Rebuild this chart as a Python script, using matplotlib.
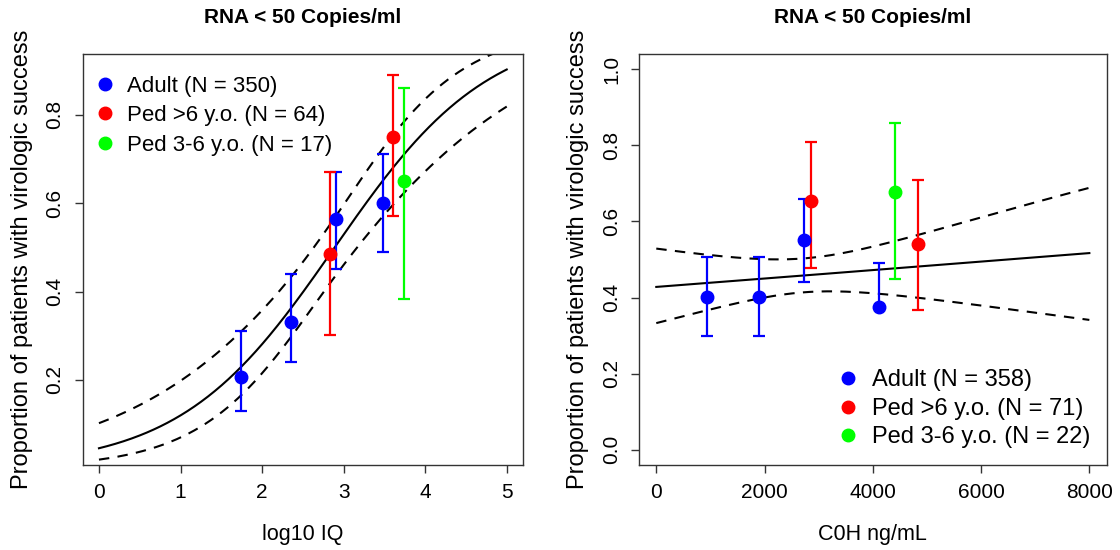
import numpy as np
import matplotlib.pyplot as plt
from matplotlib.lines import Line2D

plt.rcParams['font.family'] = ['Liberation Sans', 'DejaVu Sans']

# left panel: log10 IQ
iq_adult_x = [1.74, 2.35, 2.91, 3.48]
iq_adult_y = [0.206, 0.332, 0.564, 0.601]
iq_adult_lo = [0.130, 0.241, 0.452, 0.490]
iq_adult_hi = [0.311, 0.440, 0.671, 0.711]
iq_ped6_x = [2.83, 3.60]
iq_ped6_y = [0.484, 0.749]
iq_ped6_lo = [0.302, 0.572]
iq_ped6_hi = [0.671, 0.891]
iq_ped36_x = [3.735]
iq_ped36_y = [0.650]
iq_ped36_lo = [0.382]
iq_ped36_hi = [0.861]
# logistic fit: intercept, slope, var-cov of coefficients
iq_coef = [-3.055, 1.057]
iq_vcov = [[0.2003, -0.0655], [-0.0655, 0.0236]]
iq_labels = ['Adult (N = 350)', 'Ped >6 y.o. (N = 64)', 'Ped 3-6 y.o. (N = 17)']

# right panel: C0H ng/mL
c0_adult_x = [929, 1889, 2726, 4105]
c0_adult_y = [0.401, 0.401, 0.550, 0.375]
c0_adult_lo = [0.300, 0.300, 0.440, 0.375]
c0_adult_hi = [0.507, 0.507, 0.658, 0.490]
c0_ped6_x = [2850, 4838]
c0_ped6_y = [0.654, 0.541]
c0_ped6_lo = [0.478, 0.368]
c0_ped6_hi = [0.809, 0.709]
c0_ped36_x = [4413]
c0_ped36_y = [0.677]
c0_ped36_lo = [0.450]
c0_ped36_hi = [0.859]
c0_coef = [-0.29, 4.47e-5]
c0_vcov = [[0.0427, -1.258e-5], [-1.258e-5, 4.616e-9]]
c0_labels = ['Adult (N = 358)', 'Ped >6 y.o. (N = 71)', 'Ped 3-6 y.o. (N = 22)']

cols = ['#0000ff', '#ff0000', '#00ff00']


def expit(v):
    return 1 / (1 + np.exp(-v))


def fit_lines(ax, coef, vcov, x0, x1):
    xs = np.linspace(x0, x1, 300)
    eta = coef[0] + coef[1] * xs
    v = np.array(vcov)
    se = np.sqrt(v[0, 0] + 2 * xs * v[0, 1] + xs ** 2 * v[1, 1])
    ax.plot(xs, expit(eta), color='black', lw=1.5)
    ax.plot(xs, expit(eta + 1.96 * se), color='black', lw=1.5, dashes=(5, 4))
    ax.plot(xs, expit(eta - 1.96 * se), color='black', lw=1.5, dashes=(5, 4))


def groups(ax, data):
    for (x, y, lo, hi), c in zip(data, cols):
        y = np.array(y)
        err = [y - np.array(lo), np.array(hi) - y]
        ax.errorbar(x, y, yerr=err, fmt='none', ecolor=c, elinewidth=1.6,
                    capsize=4.5, capthick=1.6, zorder=3)
        ax.plot(x, y, 'o', color=c, ms=9, zorder=4)


def style(ax):
    for s in ax.spines.values():
        s.set_color('#333333')
        s.set_linewidth(1)
    ax.tick_params(direction='out', length=6, width=1, color='#333333',
                   labelsize=15, pad=7)
    for t in ax.get_yticklabels():
        t.set_rotation(90)
        t.set_va('center')
    ax.set_title('RNA < 50 Copies/ml', fontsize=15, fontweight='bold', pad=22)
    ax.set_ylabel('Proportion of patients with virologic success', fontsize=17, labelpad=9)


def handles(labels):
    return [Line2D([], [], marker='o', ls='none', color=c, ms=9, label=l)
            for c, l in zip(cols, labels)]


fig = plt.figure(figsize=(11.2, 5.5), dpi=100)
ax1 = fig.add_axes([0.0738, 0.1545, 0.3932, 0.7473])
ax2 = fig.add_axes([0.5705, 0.1545, 0.4176, 0.7473])

fit_lines(ax1, iq_coef, iq_vcov, 0, 5)
groups(ax1, [(iq_adult_x, iq_adult_y, iq_adult_lo, iq_adult_hi),
             (iq_ped6_x, iq_ped6_y, iq_ped6_lo, iq_ped6_hi),
             (iq_ped36_x, iq_ped36_y, iq_ped36_lo, iq_ped36_hi)])
ax1.set_xlim(-0.2, 5.2)
ax1.set_ylim(0.007, 0.938)
ax1.set_xticks([0, 1, 2, 3, 4, 5])
ax1.set_yticks([0.2, 0.4, 0.6, 0.8])
ax1.set_xlabel('log10 IQ', fontsize=15.5, labelpad=16)
style(ax1)
ax1.legend(handles=handles(iq_labels), loc='upper left', bbox_to_anchor=(0.0, 0.985),
           frameon=False, fontsize=16, handlelength=0.6, handletextpad=0.7,
           labelspacing=0.38, borderaxespad=0.3)

fit_lines(ax2, c0_coef, c0_vcov, 0, 8000)
groups(ax2, [(c0_adult_x, c0_adult_y, c0_adult_lo, c0_adult_hi),
             (c0_ped6_x, c0_ped6_y, c0_ped6_lo, c0_ped6_hi),
             (c0_ped36_x, c0_ped36_y, c0_ped36_lo, c0_ped36_hi)])
ax2.set_xlim(-320, 8320)
ax2.set_ylim(-0.04, 1.04)
ax2.set_xticks([0, 2000, 4000, 6000, 8000])
ax2.set_yticks([0.0, 0.2, 0.4, 0.6, 0.8, 1.0])
ax2.set_xlabel('C0H ng/mL', fontsize=15.5, labelpad=16)
style(ax2)
ax2.legend(handles=handles(c0_labels), loc='lower right', bbox_to_anchor=(1.0, 0.0),
           frameon=False, fontsize=17, handlelength=0.6, handletextpad=0.7,
           labelspacing=0.28, borderaxespad=0.3)

fig.savefig('out.png', dpi=100)
